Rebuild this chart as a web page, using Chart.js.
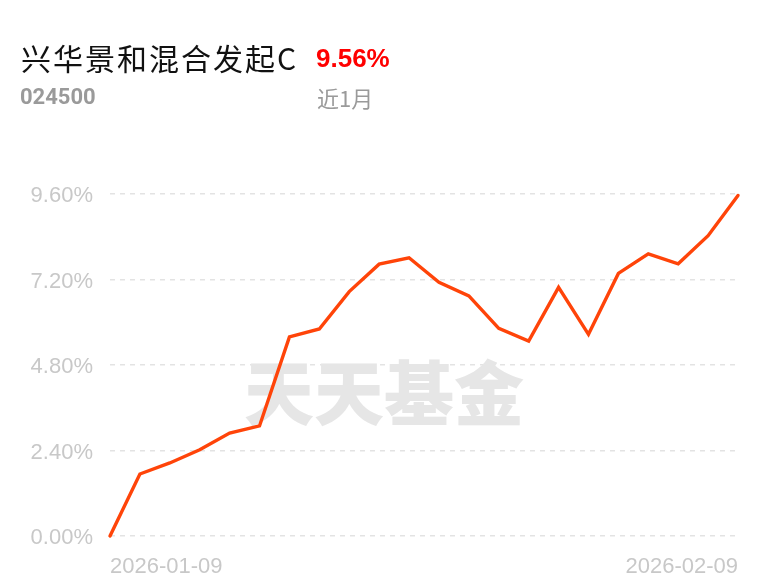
<!DOCTYPE html>
<html>
<head>
<meta charset="utf-8">
<script src="https://cdn.jsdelivr.net/npm/chart.js@4"></script>
<style>
  html, body { margin: 0; padding: 0; background: #fff; }
  body { width: 768px; height: 587px; position: relative; overflow: hidden; font-family: "Liberation Sans", "Noto Sans CJK SC", sans-serif; }
  #wrap { position: absolute; left: 0; top: 0; width: 768px; height: 587px; }
  .t { position: absolute; white-space: nowrap; }
  #name { left: 21px; top: 39px; font-size: 30px; line-height: 36px; letter-spacing: 2px; color: #111; font-family: "Noto Sans CJK SC", sans-serif; }
  #ret { left: 316px; top: 42px; font-size: 26px; line-height: 32px; color: #ff0000; font-weight: bold; font-family: "Liberation Sans", sans-serif; }
  #code { left: 20px; top: 84px; font-size: 22px; line-height: 26px; color: #9a9a9a; font-weight: bold; font-family: "Roboto", "Liberation Sans", sans-serif; }
  #period { left: 317px; top: 82px; font-size: 22px; line-height: 30px; color: #9a9a9a; font-family: "Noto Sans CJK SC", sans-serif; }
</style>
</head>
<body>
<div id="wrap"><canvas id="c" width="768" height="587"></canvas></div>
<div class="t" id="name">兴华景和混合发起C</div>
<div class="t" id="ret">9.56%</div>
<div class="t" id="code">024500</div>
<div class="t" id="period">近1月</div>
<script>
const dates = [
  "2026-01-09","2026-01-12","2026-01-13","2026-01-14","2026-01-15","2026-01-16",
  "2026-01-19","2026-01-20","2026-01-21","2026-01-22","2026-01-23",
  "2026-01-26","2026-01-27","2026-01-28","2026-01-29","2026-01-30",
  "2026-02-02","2026-02-03","2026-02-04","2026-02-05","2026-02-06","2026-02-09"
];
const returns = [0, 1.74, 2.05, 2.42, 2.89, 3.09, 5.59, 5.81, 6.86, 7.63, 7.81,
                 7.12, 6.74, 5.83, 5.47, 6.98, 5.66, 7.37, 7.92, 7.64, 8.43, 9.56];
const yTicks = [0, 2.4, 4.8, 7.2, 9.6];
const watermarkText = "天天基金";

const watermark = {
  id: "watermark",
  beforeDatasetsDraw(chart) {
    const ctx = chart.ctx;
    ctx.save();
    ctx.font = "900 70px 'Noto Sans CJK SC'";
    ctx.fillStyle = "#e6e6e6";
    ctx.textAlign = "center";
    ctx.textBaseline = "middle";
    ctx.fillText(watermarkText, 384, 393);
    ctx.restore();
  }
};

new Chart(document.getElementById("c"), {
  type: "line",
  data: {
    labels: dates,
    datasets: [{
      data: returns,
      borderColor: "#ff4409",
      borderWidth: 3.4,
      pointRadius: 0,
      tension: 0,
      fill: false,
      clip: false,
      borderCapStyle: "round",
      borderJoinStyle: "miter"
    }]
  },
  options: {
    responsive: false,
    animation: false,
    events: [],
    layout: { padding: { left: 0, right: 30, top: 194, bottom: 0 } },
    plugins: { legend: { display: false }, tooltip: { enabled: false } },
    scales: {
      x: {
        offset: false,
        grid: { display: false, drawTicks: false },
        border: { display: false },
        afterFit(s) { s.height = 51; },
        ticks: {
          autoSkip: false,
          maxRotation: 0,
          align: "inner",
          padding: 18,
          color: "#c8c8c8",
          font: { family: "Liberation Sans", size: 22 },
          callback(v, i) { return (i === 0 || i === dates.length - 1) ? dates[i] : ""; }
        }
      },
      y: {
        min: 0,
        max: 9.6,
        afterFit(s) { s.width = 110; },
        afterBuildTicks(s) { s.ticks = yTicks.map(v => ({ value: v })); },
        grid: { color: "#e3e3e3", lineWidth: 1.5, drawTicks: false },
        border: { display: false, dash: [5, 5] },
        ticks: {
          padding: 17,
          labelOffset: 2,
          color: "#c8c8c8",
          font: { family: "Liberation Sans", size: 22 },
          callback(v) { return v.toFixed(2) + "%"; }
        }
      }
    }
  },
  plugins: [watermark]
});
</script>
</body>
</html>
